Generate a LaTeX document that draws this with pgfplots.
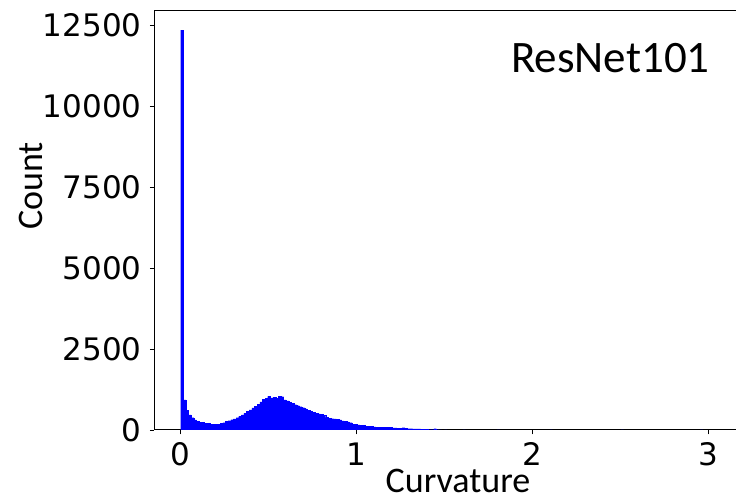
\documentclass[border=0pt]{standalone}
\usepackage{pgfplots}
\usepackage{pgfplotstable}
\pgfplotsset{compat=1.18}
\usepackage{fontspec}
\setmainfont{Carlito}
\newfontfamily\dejavu{DejaVu Sans}
\definecolor{histblue}{RGB}{0,0,255}

\pgfplotstableread{
x y
0.000 12340
0.015 926
0.030 617
0.045 463
0.060 380
0.075 310
0.090 265
0.105 245
0.120 230
0.135 210
0.150 200
0.165 185
0.180 178
0.195 175
0.210 180
0.225 200
0.240 225
0.255 260
0.270 290
0.285 320
0.300 345
0.315 380
0.330 420
0.345 470
0.360 520
0.375 570
0.390 620
0.405 680
0.420 730
0.435 800
0.450 870
0.465 940
0.480 985
0.495 1040
0.510 990
0.525 1000
0.540 985
0.555 1040
0.570 1030
0.585 930
0.600 900
0.615 860
0.630 820
0.645 780
0.660 750
0.675 720
0.690 690
0.705 650
0.720 610
0.735 580
0.750 540
0.765 515
0.780 495
0.795 485
0.810 445
0.825 390
0.840 370
0.855 350
0.870 345
0.885 325
0.900 315
0.915 285
0.930 270
0.945 250
0.960 225
0.975 185
0.990 170
1.005 160
1.020 145
1.035 140
1.050 118
1.065 112
1.080 105
1.095 95
1.110 92
1.125 90
1.140 88
1.155 85
1.170 80
1.185 75
1.200 65
1.215 62
1.230 60
1.245 58
1.260 70
1.275 50
1.290 42
1.305 40
1.320 38
1.335 36
1.350 33
1.365 30
1.380 25
1.395 15
1.410 10
1.425 12
1.440 40
1.455 8
1.470 5
1.500 3
1.605 2
1.800 1
2.100 1
2.505 1
2.955 1
}\histdata

\begin{document}
\begin{tikzpicture}
\begin{axis}[
  at={(0pt,0pt)}, anchor=south west,
  scale only axis,
  width=581.2pt, height=419.3pt,
  xmin=-0.150, xmax=3.156,
  ymin=0, ymax=12941,
  axis x line*=box, axis y line*=left,
  axis line style={-, line width=1pt, black},
  xtick={0,1,2,3}, ytick={0,2500,5000,7500,10000,12500},
  xtick pos=left, ytick pos=left,
  tick align=outside,
  major tick length=4.5pt,
  every tick/.style={black, line width=0.9pt},
  scaled y ticks=false,
  /pgf/number format/1000 sep={},
  /pgf/number format/assume math mode=true,
  ticklabel style={font=\dejavu\fontsize{31}{31}\selectfont, inner sep=0pt},
  xticklabel style={yshift=-8pt},
  yticklabel style={xshift=-8pt},
  clip=true,
]
\addplot[ybar, bar width=0.015, bar shift=0.0075, fill=histblue, draw=histblue, line width=0.2pt]
  table[x=x, y=y] {\histdata};
\end{axis}
\node[rotate=90, anchor=base, inner sep=0pt, font=\fontsize{36}{36}\selectfont] at (-111.3pt, 244pt) {Count};
\node[anchor=base, inner sep=0pt, font=\fontsize{36}{36}\selectfont] at (303.7pt, -62.5pt) {Curvature};
\node[anchor=base west, inner sep=0pt, font=\fontsize{45}{45}\selectfont] at (356.7pt, 357pt) {ResNet101};
\pgfresetboundingbox
\path (-154.3pt,-67pt) rectangle (581.7pt,430pt);
\end{tikzpicture}
\end{document}
